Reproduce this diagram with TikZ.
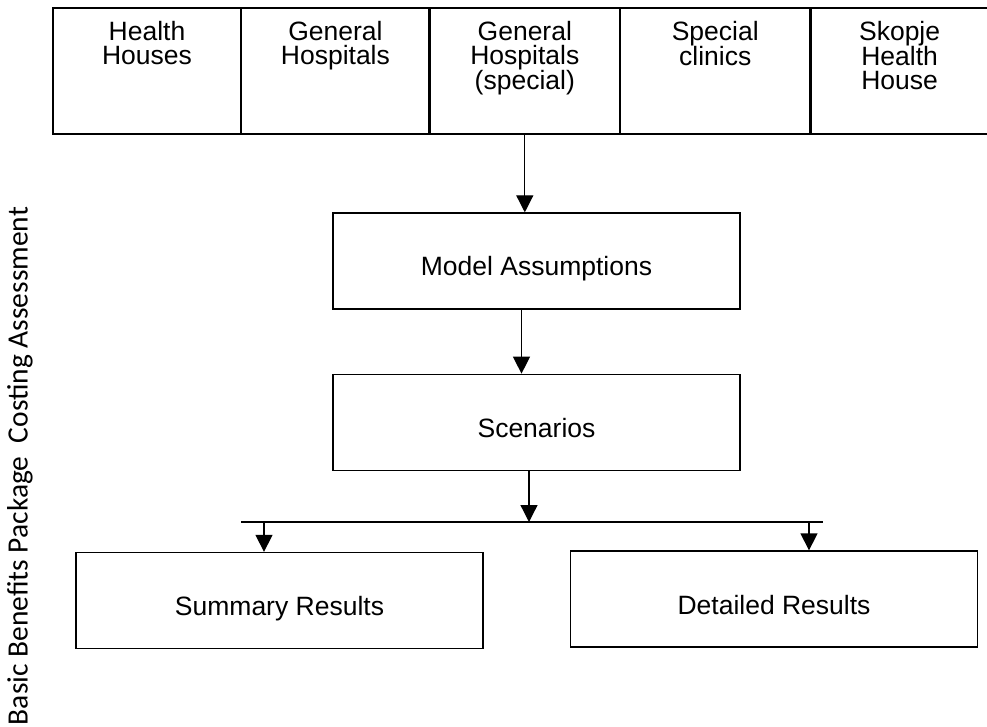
\documentclass[tikz,border=0pt]{standalone}
\usepackage{fontspec}
\setmainfont{Liberation Sans}
\newfontfamily\sidefont{Carlito}
\usepackage{tikz}
\usetikzlibrary{calc,positioning,arrows.meta}
\tikzstyle{cell} = [
	rectangle,
	minimum height = 126pt,
	inner xsep = 4pt,
	inner ysep = 13pt,
	font = \fontsize{26.5}{24}\selectfont
	]
\tikzstyle{stage} = [
	rectangle,
	minimum width = 407pt,
	minimum height = 96pt,
	text height = 30pt,
	text depth = 0pt,
	line width = 1.3pt,
	font = \fontsize{26.5}{28}\selectfont,
	draw
	]
\tikzstyle{tbl} = [
	line width = 2.4pt,
	draw
	]
\tikzstyle{flow} = [
	-{Triangle[width=17pt,length=17pt]},
	line width = 1.3pt,
	draw
	]
\newcommand{\celltext}[2]{\parbox[c][100pt][t]{#1}{\centering #2}}

\begin{document}
\begin{tikzpicture}[x=1pt,y=-1pt]
		\useasboundingbox (0,0) rectangle (987,727);
		% hospital types
		\node[cell] (hh) at (147,71) {\celltext{180pt}{Health\\Houses}};
		\node[cell, right=0pt of hh] (gh) {\celltext{180pt}{General\\Hospitals}};
		\node[cell, right=0pt of gh] (ghs) {\celltext{182pt}{General\\Hospitals\\(special)}};
		\node[cell, right=0pt of ghs] (sc) {\celltext{182pt}{Special\\clinics}};
		\node[cell, right=0pt of sc] (sk) {\celltext{170pt}{Skopje\\Health\\House}};
		\draw[tbl] (sk.north east) -- (hh.north west) -- (hh.south west) -- (sk.south east);
		\draw[tbl] (hh.north east) -- (hh.south east);
		\draw[tbl] (gh.north east) -- (gh.south east);
		\draw[tbl] (ghs.north east) -- (ghs.south east);
		\draw[tbl] (sc.north east) -- (sc.south east);
		% model
		\node[stage] (ma) at (536.5,261) {Model Assumptions};
		\node[stage, below=64pt of ma] (scen) {Scenarios};
		\node[stage] (sum) at (279.5,600.5) {Summary Results};
		\node[stage] (det) at (774,599) {Detailed Results};
		\coordinate (barl) at (241,522);
		\coordinate (barr) at (823,522);
		\coordinate (bl) at (264,522);
		\coordinate (br) at (809,522);
		\draw[flow] (ghs.south) -- (ghs.south |- ma.north);
		\draw[flow] ([xshift=-15pt]ma.south) -- ([xshift=-15pt]scen.north);
		\draw[flow] ([xshift=-7.5pt]scen.south) -- ([xshift=-7.5pt]scen.south |- barl);
		\draw[line width=1.3pt] (barl) -- (barr);
		\draw[flow] (bl) -- (bl |- sum.north);
		\draw[flow] (br) -- (br |- det.north);
		\node[rotate=90, font=\sidefont\fontsize{29.5}{32}\selectfont] (side) at (20,466) {Basic Benefits Package\ \ Costing Assessment};
	\end{tikzpicture}
\end{document}
